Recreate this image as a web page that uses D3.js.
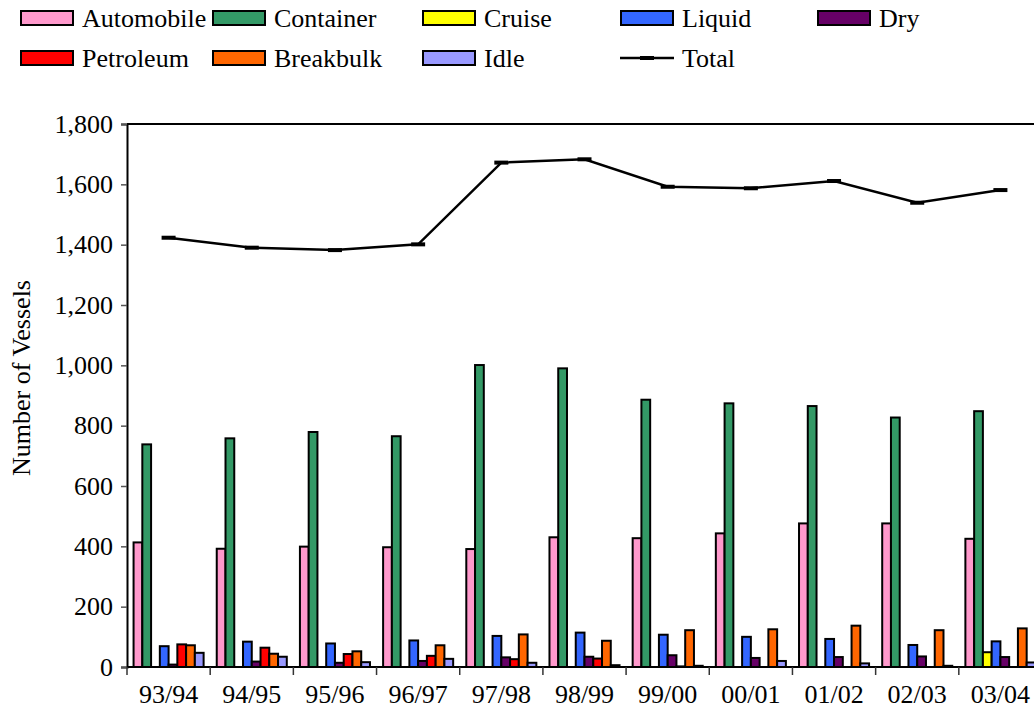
<!DOCTYPE html>
<html>
<head>
<meta charset="utf-8">
<script src="https://cdn.jsdelivr.net/npm/d3@7"></script>
<style>
  html, body { margin: 0; padding: 0; background: #fff; overflow: hidden; }
  svg { display: block; }
  svg text { font-family: "Liberation Serif", "Times New Roman", "DejaVu Serif", serif !important; fill: #000; }
</style>
</head>
<body>
<svg id="chart" width="1034" height="725"></svg>
<script>
// Fiscal years on the category axis
const years = ["93/94", "94/95", "95/96", "96/97", "97/98", "98/99", "99/00", "00/01", "01/02", "02/03", "03/04"];

// Vessel calls by type, one value per fiscal year
const automobile = [413, 392, 399, 397, 391, 430, 427, 443, 476, 476, 425];
const container  = [738, 758, 779, 765, 1001, 990, 886, 874, 865, 827, 848];
const cruise     = [0, 0, 0, 0, 0, 0, 0, 0, 0, 0, 49];
const liquid     = [69, 84, 78, 88, 103, 114, 107, 100, 93, 73, 85];
const dry        = [8, 18, 14, 20, 32, 34, 39, 30, 33, 35, 33];
const petroleum  = [75, 64, 43, 37, 26, 28, 2, 0, 0, 0, 0];
const breakbulk  = [72, 44, 52, 72, 108, 87, 122, 125, 137, 122, 128];
const idle       = [47, 34, 16, 27, 14, 6, 4, 20, 12, 4, 15];
const total      = [1423, 1390, 1382, 1401, 1672, 1683, 1592, 1587, 1611, 1539, 1581];

// Y axis ticks
const yTicks = [0, 200, 400, 600, 800, 1000, 1200, 1400, 1600, 1800];

const seriesNames = ["Automobile", "Container", "Cruise", "Liquid", "Dry", "Petroleum", "Breakbulk", "Idle"];
const seriesValues = [automobile, container, cruise, liquid, dry, petroleum, breakbulk, idle];
const seriesColors = ["#FF99CC", "#339966", "#FFFF00", "#3366FF", "#660066", "#FF0000", "#FF6600", "#9999FF"];

const FONT = "'Liberation Serif', 'Times New Roman', 'DejaVu Serif', serif";

const svg = d3.select("#chart");
const m = { left: 127, top: 124, right: 1042, bottom: 667 };

const x = d3.scaleBand().domain(years).range([m.left, m.right]).padding(0);
const xs = d3.scaleBand().domain(seriesNames).range([0, x.bandwidth()])
  .paddingInner(0).paddingOuter(0.75);
const y = d3.scaleLinear().domain([0, 1800]).range([m.bottom, m.top]);

// Plot frame (top and right edges)
svg.append("path")
  .attr("d", `M${m.left},${m.top}H${m.right}V${m.bottom}`)
  .attr("fill", "none").attr("stroke", "#000").attr("stroke-width", 2);

// Bars
seriesNames.forEach((name, si) => {
  svg.append("g").selectAll("rect")
    .data(seriesValues[si].map((v, i) => ({ year: years[i], v })))
    .join("rect")
    .attr("x", d => x(d.year) + xs(name))
    .attr("y", d => y(d.v))
    .attr("width", xs.bandwidth())
    .attr("height", d => y(0) - y(d.v))
    .attr("fill", seriesColors[si])
    .attr("stroke", "#000")
    .attr("stroke-width", 2);
});

// Total line with dash markers
const line = d3.line().x((d, i) => x(years[i]) + x.bandwidth() / 2).y(d => y(d));
svg.append("path").datum(total).attr("d", line)
  .attr("fill", "none").attr("stroke", "#000").attr("stroke-width", 2.5);
svg.append("g").selectAll("rect").data(total).join("rect")
  .attr("x", (d, i) => x(years[i]) + x.bandwidth() / 2 - 7)
  .attr("y", d => y(d) - 2)
  .attr("width", 14).attr("height", 4).attr("fill", "#000");

// Y axis
const yAxis = svg.append("g").attr("transform", `translate(${m.left},0)`)
  .call(d3.axisLeft(y).tickValues(yTicks).tickFormat(d3.format(",")).tickSize(6).tickPadding(8));
yAxis.attr("font-family", FONT).attr("font-size", 26);
yAxis.select(".domain").attr("stroke", "#000").attr("stroke-width", 2);
yAxis.selectAll(".tick line").attr("stroke", "#555").attr("stroke-width", 1.5);
yAxis.selectAll("text").attr("font-size", 26).style("font-family", FONT);

// X axis: ticks on category boundaries
const xAxisG = svg.append("g").attr("transform", `translate(0,${m.bottom})`);
xAxisG.append("line").attr("x1", m.left).attr("x2", m.right)
  .attr("stroke", "#000").attr("stroke-width", 2);
const boundaries = years.map(yr => x(yr)).concat([x(years[years.length - 1]) + x.bandwidth()]);
xAxisG.selectAll("line.tk").data(boundaries).join("line").attr("class", "tk")
  .attr("x1", d => d).attr("x2", d => d).attr("y1", 0).attr("y2", 8)
  .attr("stroke", "#333").attr("stroke-width", 1.5);
xAxisG.selectAll("text").data(years).join("text")
  .attr("x", d => x(d) + x.bandwidth() / 2).attr("y", 36)
  .attr("text-anchor", "middle").attr("font-size", 26).style("font-family", FONT).text(d => d);

// Y axis title
svg.append("text")
  .attr("transform", `translate(30,378) rotate(-90)`)
  .attr("text-anchor", "middle").attr("font-size", 26).style("font-family", FONT)
  .text("Number of Vessels");

// Legend
const legendItems = [
  { name: "Automobile", col: 0, row: 0 }, { name: "Container", col: 1, row: 0 },
  { name: "Cruise", col: 2, row: 0 }, { name: "Liquid", col: 3, row: 0 },
  { name: "Dry", col: 4, row: 0 }, { name: "Petroleum", col: 0, row: 1 },
  { name: "Breakbulk", col: 1, row: 1 }, { name: "Idle", col: 2, row: 1 },
  { name: "Total", col: 3, row: 1 }
];
const colX = [20, 212, 422, 620, 817];
const rowY = [18, 58];
const lg = svg.append("g");
legendItems.forEach(it => {
  const gx = colX[it.col], gy = rowY[it.row];
  const si = seriesNames.indexOf(it.name);
  if (si >= 0) {
    lg.append("rect").attr("x", gx + 1).attr("y", gy - 7).attr("width", 52).attr("height", 14)
      .attr("fill", seriesColors[si]).attr("stroke", "#000").attr("stroke-width", 2);
  } else {
    lg.append("line").attr("x1", gx).attr("x2", gx + 54).attr("y1", gy).attr("y2", gy)
      .attr("stroke", "#000").attr("stroke-width", 2.5);
    lg.append("rect").attr("x", gx + 20).attr("y", gy - 2).attr("width", 14).attr("height", 4).attr("fill", "#000");
  }
  lg.append("text").attr("x", gx + 62).attr("y", gy + 9).attr("font-size", 26).style("font-family", FONT).text(it.name);
});
</script>
</body>
</html>
